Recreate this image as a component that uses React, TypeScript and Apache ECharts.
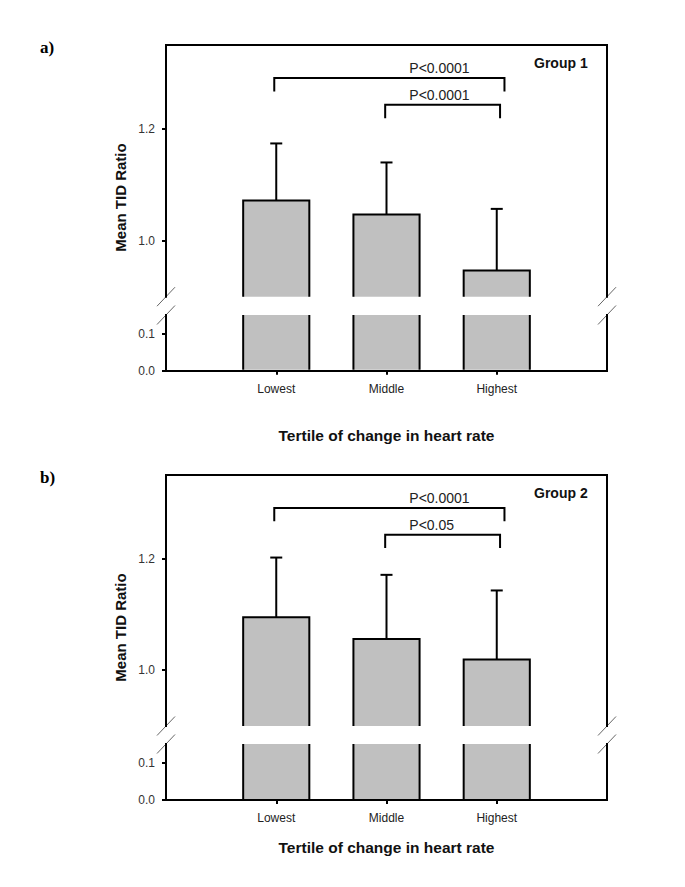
import React, { useEffect, useRef } from 'react';
import * as echarts from 'echarts';

// ---------- data ----------
const categories = ['Lowest', 'Middle', 'Highest'];
const group1Mean = [1.072, 1.047, 0.947];
const group1SD = [0.102, 0.093, 0.110];
const group2Mean = [1.095, 1.056, 1.019];
const group2SD = [0.107, 0.115, 0.124];
const upperTicks = [1.0, 1.2];
const lowerTicks = [0.0, 0.1];
const upperRange = [0.9, 1.35];
const lowerRange = [0, 0.15];
const comparisons = [[0, 2], [1, 2]];
const comparisonLevels = [1.291, 1.243];
const group1P = ['P<0.0001', 'P<0.0001'];
const group2P = ['P<0.0001', 'P<0.05'];
const panelLetters = ['a)', 'b)'];
const groupNames = ['Group 1', 'Group 2'];
const yTitle = 'Mean TID Ratio';
const xTitle = 'Tertile of change in heart rate';

// ---------- layout ----------
const W = 685;
const H = 887;
const LEFT = 166;
const RIGHT = 607;
const panels = [
  { top: 45, upperBottom: 296.7, lowerTop: 315, bottom: 370.7, titleY: 435, yTitleY: 197.5, letterY: 47.5, groupY: 62.7 },
  { top: 475, upperBottom: 726, lowerTop: 744, bottom: 800, titleY: 847, yTitleY: 627.5, letterY: 477.5, groupY: 492.7 },
];
const SANS = '"Liberation Sans", Arial, sans-serif';
const BAR_FILL = '#c0c0c0';
const LW = 2;

function buildOption() {
  const grids: any[] = [];
  const xAxes: any[] = [];
  const yAxes: any[] = [];
  const series: any[] = [];
  const graphics: any[] = [];

  const axisLineStyle = { color: '#000', width: LW, cap: 'square' };

  panels.forEach((p, pi) => {
    const means = pi === 0 ? group1Mean : group2Mean;
    const sds = pi === 0 ? group1SD : group2SD;
    const pLabels = pi === 0 ? group1P : group2P;
    const gU = grids.length;
    grids.push({ left: LEFT, right: W - RIGHT, top: p.top, height: p.upperBottom - p.top });
    const gL = grids.length;
    grids.push({ left: LEFT, right: W - RIGHT, top: p.lowerTop, height: p.bottom - p.lowerTop });

    // x axes
    const xU = xAxes.length;
    xAxes.push({
      type: 'value', gridIndex: gU, min: 0, max: 4, position: 'top',
      axisLine: { show: true, onZero: false, lineStyle: axisLineStyle },
      axisTick: { show: false }, axisLabel: { show: false }, splitLine: { show: false },
    });
    const xL = xAxes.length;
    xAxes.push({
      type: 'value', gridIndex: gL, min: 0, max: 4, position: 'bottom',
      axisLine: { show: true, onZero: false, lineStyle: axisLineStyle },
      axisTick: { show: true, customValues: [1, 2, 3], length: 4, lineStyle: { color: '#000', width: LW } },
      axisLabel: {
        show: true, customValues: [1, 2, 3], margin: 12,
        formatter: (v: number) => categories[Math.round(v) - 1] ?? '',
        fontFamily: SANS, fontSize: 12, color: '#222',
      },
      splitLine: { show: false },
    });

    // y axes
    const yUL = yAxes.length;
    yAxes.push({
      type: 'value', gridIndex: gU, min: upperRange[0], max: upperRange[1], position: 'left',
      axisLine: { show: true, onZero: false, lineStyle: axisLineStyle },
      axisTick: { show: true, customValues: upperTicks, length: 4, lineStyle: { color: '#000', width: LW } },
      axisLabel: { show: true, customValues: upperTicks, margin: 11, formatter: (v: number) => v.toFixed(1), fontFamily: SANS, fontSize: 12, color: '#333' },
      splitLine: { show: false },
    });
    yAxes.push({
      type: 'value', gridIndex: gU, min: upperRange[0], max: upperRange[1], position: 'right',
      axisLine: { show: true, onZero: false, lineStyle: axisLineStyle },
      axisTick: { show: false }, axisLabel: { show: false }, splitLine: { show: false },
    });
    const yLL = yAxes.length;
    yAxes.push({
      type: 'value', gridIndex: gL, min: lowerRange[0], max: lowerRange[1], position: 'left',
      axisLine: { show: true, onZero: false, lineStyle: axisLineStyle },
      axisTick: { show: true, customValues: lowerTicks, length: 4, lineStyle: { color: '#000', width: LW } },
      axisLabel: { show: true, customValues: lowerTicks, margin: 11, formatter: (v: number) => v.toFixed(1), fontFamily: SANS, fontSize: 12, color: '#333' },
      splitLine: { show: false },
    });
    yAxes.push({
      type: 'value', gridIndex: gL, min: lowerRange[0], max: lowerRange[1], position: 'right',
      axisLine: { show: true, onZero: false, lineStyle: axisLineStyle },
      axisTick: { show: false }, axisLabel: { show: false }, splitLine: { show: false },
    });

    const barData = categories.map((_, i) => [i + 1, means[i], sds[i]]);

    // upper segment bars with error bars
    series.push({
      type: 'custom', xAxisIndex: xU, yAxisIndex: yUL, clip: false,
      data: barData,
      renderItem: (params: any, api: any) => {
        const x = api.value(0);
        const mean = api.value(1);
        const sd = api.value(2);
        const cs = params.coordSys;
        const [cx, yTop] = api.coord([x, mean]);
        const yErr = api.coord([x, mean + sd])[1];
        const yBase = cs.y + cs.height;
        const w = api.size([0.6, 0])[0];
        const l = cx - w / 2;
        const r = cx + w / 2;
        return {
          type: 'group',
          children: [
            { type: 'rect', shape: { x: l, y: yTop, width: w, height: yBase - yTop }, style: { fill: BAR_FILL } },
            { type: 'line', shape: { x1: cx, y1: yTop, x2: cx, y2: yErr }, style: { stroke: '#000', lineWidth: LW } },
            { type: 'line', shape: { x1: cx - 6, y1: yErr, x2: cx + 6, y2: yErr }, style: { stroke: '#000', lineWidth: LW } },
            { type: 'polyline', shape: { points: [[l, yBase], [l, yTop], [r, yTop], [r, yBase]] }, style: { stroke: '#000', lineWidth: LW, fill: null } },
          ],
        };
      },
    });

    // lower segment bars
    series.push({
      type: 'custom', xAxisIndex: xL, yAxisIndex: yLL, clip: false,
      data: barData,
      renderItem: (params: any, api: any) => {
        const x = api.value(0);
        const cs = params.coordSys;
        const cx = api.coord([x, 0])[0];
        const yTop = cs.y;
        const yBase = cs.y + cs.height - 1;
        const w = api.size([0.6, 0])[0];
        const l = cx - w / 2;
        const r = cx + w / 2;
        return {
          type: 'group',
          children: [
            { type: 'rect', shape: { x: l, y: yTop, width: w, height: yBase - yTop }, style: { fill: BAR_FILL } },
            { type: 'line', shape: { x1: l, y1: yTop, x2: l, y2: yBase }, style: { stroke: '#000', lineWidth: LW } },
            { type: 'line', shape: { x1: r, y1: yTop, x2: r, y2: yBase }, style: { stroke: '#000', lineWidth: LW } },
          ],
        };
      },
    });

    // significance brackets
    series.push({
      type: 'custom', xAxisIndex: xU, yAxisIndex: yUL, clip: false,
      data: comparisons.map(([a, b], i) => [a + 1, b + 1, comparisonLevels[i]]),
      renderItem: (params: any, api: any) => {
        const i = params.dataIndex;
        const a = api.value(0);
        const b = api.value(1);
        const lvl = api.value(2);
        const offA = i === 0 ? -0.018 : -0.012;
        const offB = i === 0 ? 0.07 : 0.03;
        const p1 = api.coord([a + offA, lvl]);
        const p2 = api.coord([b + offB, lvl]);
        const yDrop = api.coord([a, lvl - 0.024])[1];
        const tp = api.coord([2.207, lvl + 0.018]);
        return {
          type: 'group',
          children: [
            { type: 'polyline', shape: { points: [[p1[0], yDrop], [p1[0], p1[1]], [p2[0], p2[1]], [p2[0], yDrop]] }, style: { stroke: '#000', lineWidth: LW, fill: null } },
            {
              type: 'text', x: tp[0], y: tp[1],
              style: { text: pLabels[i], fill: '#222', font: `14px ${SANS}`, textAlign: 'left', textVerticalAlign: 'middle', align: 'left', verticalAlign: 'middle' },
            },
          ],
        };
      },
    });

    // axis break slashes
    [LEFT, RIGHT].forEach((x) => {
      [p.upperBottom, p.lowerTop].forEach((y) => {
        graphics.push({ type: 'line', shape: { x1: x - 9, y1: y + 9.5, x2: x + 9, y2: y - 9.5 }, style: { stroke: '#666', lineWidth: 1 } });
      });
    });

    // texts
    graphics.push({
      type: 'text', x: 40, y: p.letterY,
      style: { text: panelLetters[pi], fill: '#000', font: `bold 17px "Liberation Serif", "Times New Roman", serif`, textAlign: 'left', textVerticalAlign: 'middle', align: 'left', verticalAlign: 'middle' },
    });
    graphics.push({
      type: 'text', x: 534, y: p.groupY,
      style: { text: groupNames[pi], fill: '#111', font: `bold 14px ${SANS}`, textAlign: 'left', textVerticalAlign: 'middle', align: 'left', verticalAlign: 'middle' },
    });
    graphics.push({
      type: 'text', x: 120, y: p.yTitleY, rotation: Math.PI / 2,
      style: { text: yTitle, fill: '#111', font: `bold 15px ${SANS}`, textAlign: 'center', textVerticalAlign: 'middle', align: 'center', verticalAlign: 'middle' },
    });
    graphics.push({
      type: 'text', x: (LEFT + RIGHT) / 2, y: p.titleY,
      style: { text: xTitle, fill: '#111', font: `bold 15.5px ${SANS}`, textAlign: 'center', textVerticalAlign: 'middle', align: 'center', verticalAlign: 'middle' },
    });
  });

  return {
    animation: false,
    backgroundColor: '#fff',
    grid: grids,
    xAxis: xAxes,
    yAxis: yAxes,
    series,
    graphic: { elements: graphics },
  };
}

export default function App() {
  const ref = useRef<HTMLDivElement>(null);
  useEffect(() => {
    if (!ref.current) return;
    const chart = echarts.init(ref.current, undefined, { renderer: 'svg' });
    chart.setOption(buildOption() as any);
    return () => chart.dispose();
  }, []);
  return <div ref={ref} style={{ position: 'fixed', left: 0, top: 0, width: W, height: H, background: '#fff' }} />;
}
